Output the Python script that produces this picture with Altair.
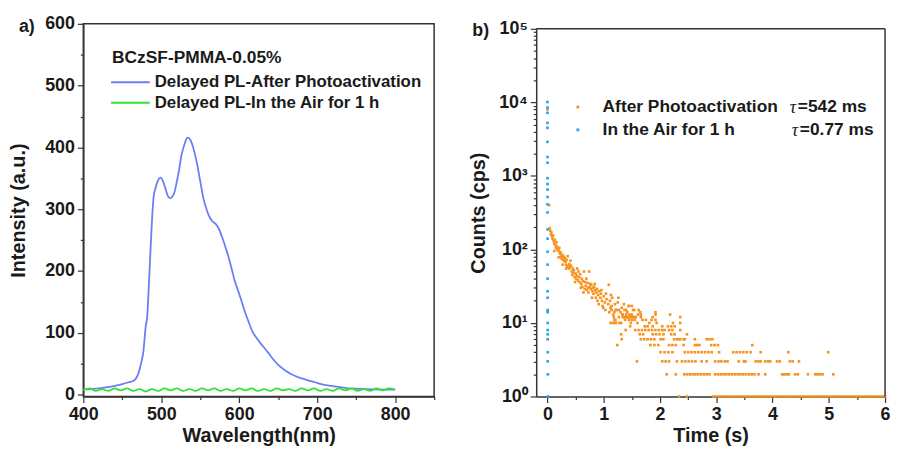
import altair as alt
import pandas as pd

# ---------------- Panel a) delayed PL spectra ----------------
SERIES_A = ["Delayed PL-After Photoactivation", "Delayed PL-In the Air for 1 h"]
COLORS_A = ["#6b7ff5", "#2fe42f"]
LEGEND_TITLE_A = "BCzSF-PMMA-0.05%"

WL_AFTER = [400, 410, 420, 430, 440, 450, 458, 465, 470, 474, 477, 480, 482, 484, 486, 488,
            490, 493, 496, 499, 502, 505, 508, 511, 514, 517, 520, 523, 526, 529, 532, 534,
            537, 540, 543, 546, 550, 554, 558, 562, 566, 570, 574, 578, 582, 586, 590, 594,
            598, 602, 607, 612, 617, 622, 630, 637, 643, 650, 659, 667, 676, 686, 697, 708,
            719, 730, 740, 750, 761, 775, 790, 800]
PL_AFTER = [8.5, 9, 10, 12, 14, 17, 20, 23, 32, 50, 69, 110, 127, 175, 229, 280,
            318, 336, 347, 351, 346, 335, 323, 318, 320, 328, 345, 365, 388, 402, 413, 416,
            413, 404, 390, 373, 345, 318, 300, 287, 280, 276, 268, 255, 240, 224, 205, 185,
            170, 155, 135, 118, 102, 92, 79, 68, 58, 48, 39, 33, 28, 24, 20, 16,
            14, 12, 10, 9.5, 9, 8.5, 8, 8]

WL_AIR = [400, 408, 416, 424, 432, 440, 448, 456, 464, 472, 480, 488, 496, 504, 512, 520,
          528, 536, 544, 552, 560, 568, 576, 584, 592, 600, 608, 616, 624, 632, 640, 648,
          656, 664, 672, 680, 688, 696, 704, 712, 720, 728, 736, 744, 752, 760, 768, 776,
          784, 792, 800]
PL_AIR = [7, 10, 6, 9, 6, 10, 7, 10, 6, 9, 5, 9, 6, 10, 7, 10,
          6, 9, 6, 10, 7, 10, 6, 9, 6, 10, 7, 10, 6, 9, 6, 10,
          7, 9, 6, 10, 7, 10, 6, 9, 6, 10, 7, 10, 6, 9, 6, 10,
          7, 10, 8]

X_TICKS_A = [400, 450, 500, 550, 600, 650, 700, 750, 800, 850]
Y_TICKS_A = [0, 50, 100, 150, 200, 250, 300, 350, 400, 450, 500, 550, 600]

# ---------------- Panel b) decay curves ----------------
SERIES_B = ["After Photoactivation", "In the Air for 1 h"]
COLORS_B = ["#f7921e", "#22a6ee"]
TAU_TEXT = ["=542 ms", "=0.77 ms"]

# dense band of the photoactivated decay
BAND_T = [0.00, 0.03, 0.04, 0.05, 0.06, 0.07, 0.08, 0.09, 0.10, 0.11, 0.12, 0.13, 0.14, 0.15,
          0.16, 0.17, 0.18, 0.19, 0.20, 0.21, 0.22, 0.23, 0.24, 0.25, 0.26, 0.27, 0.28, 0.29,
          0.30, 0.31, 0.32, 0.33, 0.34, 0.35, 0.36, 0.37, 0.38, 0.39, 0.40, 0.42, 0.43, 0.44,
          0.45, 0.46, 0.47, 0.48, 0.50, 0.51, 0.52, 0.54, 0.55, 0.56, 0.57, 0.58, 0.60, 0.61,
          0.62, 0.63, 0.65, 0.66, 0.67, 0.68, 0.70, 0.71, 0.72, 0.73, 0.74, 0.75, 0.76, 0.77,
          0.78, 0.80, 0.81, 0.82, 0.83, 0.85, 0.86, 0.87, 0.88, 0.90, 0.91, 0.92, 0.94, 0.95,
          0.97, 0.98, 1.00, 1.02, 1.03, 1.05, 1.08, 1.09, 1.10, 1.11, 1.12, 1.14, 1.15, 1.17,
          1.18, 1.20, 1.22, 1.23, 1.25, 1.27, 1.28, 1.30, 1.32, 1.33, 1.35, 1.37, 1.38, 1.40,
          1.42, 1.43, 1.44, 1.45, 1.47, 1.48, 1.50, 1.52, 1.54,
          0.12, 0.20, 0.27, 0.33, 0.41, 0.49, 0.53, 0.59, 0.64, 0.69, 0.79, 0.84, 0.89, 0.96,
          0.99, 1.04, 1.13, 1.19, 1.26, 1.31, 1.36]
BAND_C = [8000, 400, 195, 180, 160, 170, 150, 140, 155, 130, 120, 135, 115, 105,
          125, 110, 98, 100, 95, 105, 88, 92, 80, 75, 85, 78, 72, 80,
          70, 76, 68, 62, 72, 58, 81, 60, 55, 63, 57, 60, 50, 45,
          55, 48, 52, 42, 47, 40, 44, 38, 50, 42, 36, 46, 34, 40,
          31, 37, 50, 29, 36, 32, 28, 35, 30, 26, 50, 31, 34, 29,
          33, 27, 30, 25, 31, 28, 22, 26, 29, 24, 18, 27, 22, 25,
          20, 17, 23, 19, 15, 21, 18, 33, 14, 20, 16, 17, 22, 13,
          12, 18, 10, 15, 19, 12, 10, 14, 16, 13, 12, 15, 11, 12,
          14, 12, 17, 11, 12, 10, 13, 15, 12,
          95, 78, 62, 55, 70, 36, 55, 30, 26, 40, 22, 34, 20, 28,
          16, 25, 24, 11, 22, 10, 18]

# points sitting on the discrete low-count levels (count -> times)
LEVEL_TIMES = {
    17: [1.45, 1.50],
    15: [1.14, 1.21, 1.27, 1.40, 1.54, 1.62],
    14: [1.19, 1.65, 1.92],
    13: [1.34, 1.40, 1.46, 1.61, 1.66, 1.92, 2.18],
    12: [1.34, 1.38, 1.42, 1.46, 1.50, 1.54, 1.57, 1.66, 1.87, 2.36],
    11: [1.21, 1.50, 1.55, 1.69, 1.75, 1.85, 1.92],
    10: [1.12, 1.16, 1.20, 1.60, 1.81, 1.94, 2.23, 2.36],
    9: [1.47, 1.73, 1.78, 1.87, 2.04, 2.14, 2.20, 2.26],
    8: [1.39, 1.56, 1.62, 1.68, 1.74, 1.80, 1.86, 1.92, 1.98, 2.04, 2.08, 2.16, 2.22, 2.36],
    7: [1.31, 1.64, 1.70, 1.87, 1.93, 1.99, 2.06, 2.20, 2.26, 2.48],
    6: [1.32, 1.66, 1.72, 1.78, 1.84, 1.90, 2.01, 2.06, 2.25, 2.30, 2.33, 2.36, 2.42, 2.44,
        2.62, 2.83, 2.88, 2.93],
    5: [1.24, 1.83, 1.90, 1.97, 2.16, 2.22, 2.28, 2.42, 2.62, 2.66, 2.70, 2.91, 2.97, 3.03, 3.64],
    4: [2.01, 2.08, 2.15, 2.22, 2.44, 2.50, 2.56, 2.62, 2.68, 2.74, 2.80, 2.86, 2.92, 3.05,
        3.30, 3.36, 3.42, 3.48, 3.54, 3.61, 3.79, 4.28, 4.99],
    3: [1.59, 2.04, 2.10, 2.16, 2.30, 2.39, 2.45, 2.51, 2.57, 2.63, 2.74, 2.83, 2.98, 3.04,
        3.09, 3.15, 3.20, 3.40, 3.49, 3.52, 3.70, 3.75, 3.79, 3.87, 3.92, 3.96, 4.08, 4.13,
        4.31, 4.36, 4.47],
    2: [2.12, 2.28, 2.43, 2.48, 2.53, 2.58, 2.63, 2.68, 2.73, 2.78, 2.83, 2.88, 2.98, 3.03,
        3.08, 3.13, 3.18, 3.23, 3.28, 3.33, 3.38, 3.43, 3.48, 3.53, 3.58, 3.63, 3.68, 3.75,
        3.87, 4.17, 4.21, 4.25, 4.29, 4.40, 4.45, 4.63, 4.76, 4.80, 4.84, 4.89, 5.08],
    1: [2.34, 2.48, 2.95, 3.00, 3.05, 3.10, 3.15, 3.20, 3.25, 3.30, 3.35, 3.40, 3.45, 3.50,
        3.55, 3.60, 3.65, 3.70, 3.75, 3.80, 3.85, 3.90, 3.95, 4.00, 4.05, 4.10, 4.15, 4.20,
        4.25, 4.30, 4.35, 4.40, 4.45, 4.50, 4.55, 4.60, 4.65, 4.70, 4.75, 4.80, 4.85, 4.90,
        4.95, 5.00, 5.05, 5.10, 5.15, 5.20, 5.25, 5.30, 5.35, 5.40, 5.45, 5.50, 5.55, 5.60,
        5.65, 5.70, 5.75, 5.80, 5.85, 5.90, 5.95, 6.00],
}

# fast decay measured after 1 h in air (all within a few ms of t = 0)
AIR_T = [0.000, 0.000, 0.000, 0.000, 0.000, 0.000, 0.001, 0.001, 0.001, 0.001, 0.001,
         0.001, 0.001, 0.001, 0.002, 0.002, 0.002, 0.002, 0.003, 0.003, 0.003, 0.003,
         0.003, 0.004, 0.004, 0.004, 0.004, 0.005, 0.005, 0.006, 0.007]
AIR_C = [10100, 8500, 7200, 5250, 4500, 2900, 1800, 1510, 930, 775, 650,
         515, 410, 318, 187, 140, 93, 62, 40, 27, 22, 15,
         14, 10, 8, 7, 6, 4, 3, 2, 1]

X_TICKS_B = [0, 0.5, 1, 1.5, 2, 2.5, 3, 3.5, 4, 4.5, 5, 5.5, 6]
Y_TICKS_B = [1, 2, 3, 4, 5, 6, 7, 8, 9, 10, 20, 30, 40, 50, 60, 70, 80, 90,
             100, 200, 300, 400, 500, 600, 700, 800, 900,
             1000, 2000, 3000, 4000, 5000, 6000, 7000, 8000, 9000,
             10000, 20000, 30000, 40000, 50000, 60000, 70000, 80000, 90000, 100000]

# ---------------- build tables ----------------
df_a = pd.concat([
    pd.DataFrame({"wl": WL_AFTER, "pl": PL_AFTER, "series": SERIES_A[0]}),
    pd.DataFrame({"wl": WL_AIR, "pl": PL_AIR, "series": SERIES_A[1]}),
], ignore_index=True)

rows_t, rows_c = list(BAND_T), list(BAND_C)
for lvl, times in LEVEL_TIMES.items():
    rows_t += times
    rows_c += [lvl] * len(times)
df_b = pd.concat([
    pd.DataFrame({"t": rows_t, "c": rows_c, "series": SERIES_B[0], "o": 0}),
    pd.DataFrame({"t": AIR_T, "c": AIR_C, "series": SERIES_B[1], "o": 1}),
], ignore_index=True)

FONT = "Liberation Sans"
INK = "#1a1a1a"
FRAME = "#333333"
ONE = pd.DataFrame({"k": [0]})

H = 376                      # plot height of both panels
W_A, W_B, TOP_B = 354, 352, 5  # panel b frame starts 5 px lower than panel a


def major_tick(test):
    return {"condition": {"test": test, "value": 6}, "value": 3}


def label(text, x, y, size=17.5, font=FONT, weight="bold", style="normal", align="left"):
    return alt.Chart(pd.DataFrame({"s": [text]})).mark_text(
        font=font, fontSize=size, fontWeight=weight, fontStyle=style, color=INK,
        align=align, baseline="middle"
    ).encode(x=alt.value(x), y=alt.value(y), text="s:N")


# ---------------- panel a ----------------
lines = alt.Chart(df_a).mark_line(strokeWidth=1.8, interpolate="monotone").encode(
    x=alt.X("wl:Q", scale=alt.Scale(domain=[400, 850], nice=False, zero=False),
            axis=alt.Axis(values=X_TICKS_A, title="Wavelength(nm)", labelFlush=False,
                          labelExpr="datum.value % 100 == 0 && datum.value <= 800 ? datum.value : ''",
                          tickSize=major_tick("datum.value % 100 == 0"),
                          labelPadding=3, titlePadding=2)),
    y=alt.Y("pl:Q", scale=alt.Scale(domain=[-3, 600], nice=False, zero=False),
            axis=alt.Axis(values=Y_TICKS_A, title="Intensity (a.u.)", labelFlush=False,
                          labelExpr="datum.value % 100 == 0 ? datum.value : ''",
                          tickSize=major_tick("datum.value % 100 == 0"),
                          titlePadding=16)),
    color=alt.Color("series:N", scale=alt.Scale(domain=SERIES_A, range=COLORS_A), legend=None),
)

leg_a = [label(LEGEND_TITLE_A, 29, 35)]
for i, (name, col) in enumerate(zip(SERIES_A, COLORS_A)):
    yy = 59 + 20.5 * i
    leg_a.append(alt.Chart(ONE).mark_rule(strokeWidth=2, color=col).encode(
        x=alt.value(28), x2=alt.value(67), y=alt.value(yy)))
    leg_a.append(label(name, 72, yy, size=17))

left = alt.layer(lines, *leg_a, label("a)", -57, 3, size=18, align="center")).properties(
    width=W_A, height=H)

# ---------------- panel b ----------------
pts = alt.Chart(df_b).mark_square(size=7, opacity=1).encode(
    x=alt.X("t:Q", scale=alt.Scale(domain=[-0.2, 6], nice=False, zero=False),
            axis=alt.Axis(values=X_TICKS_B, title="Time (s)", labelFlush=False,
                          labelExpr="datum.value % 1 == 0 ? datum.value : ''",
                          tickSize=major_tick("datum.value % 1 == 0"),
                          labelPadding=3, titlePadding=2)),
    y=alt.Y("c:Q", scale=alt.Scale(type="log", domain=[1, 100000], nice=False,
                                   range=[H, TOP_B]),
            axis=alt.Axis(values=Y_TICKS_B, title="Counts (cps)", labelFlush=False,
                          labelExpr="datum.value == 1 ? '10⁰' : datum.value == 10 ? '10¹' : datum.value == 100 ? '10²' : datum.value == 1000 ? '10³' : datum.value == 10000 ? '10⁴' : datum.value == 100000 ? '10⁵' : ''",
                          tickSize=major_tick("indexof([1,10,100,1000,10000,100000], datum.value) >= 0"),
                          titlePadding=10)),
    color=alt.Color("series:N", scale=alt.Scale(domain=SERIES_B, range=COLORS_B), legend=None),
    order=alt.Order("o:Q"),
)

# frame of panel b (top and right edges; left/bottom are the axis lines)
frame_top = alt.Chart(ONE).mark_rule(strokeWidth=1.5, color=FRAME).encode(
    x=alt.value(0), x2=alt.value(W_B), y=alt.value(TOP_B))
frame_right = alt.Chart(ONE).mark_rule(strokeWidth=1.5, color=FRAME).encode(
    x=alt.value(W_B), y=alt.value(TOP_B), y2=alt.value(H))

leg_b = []
for i, (name, col) in enumerate(zip(SERIES_B, COLORS_B)):
    yy = 84 + 23 * i
    leg_b.append(alt.Chart(ONE).mark_square(size=8, color=col, opacity=1).encode(
        x=alt.value(42), y=alt.value(yy)))
    leg_b.append(label(name, 67, yy, size=17.5))
    leg_b.append(label("τ", 259 + 2 * i, yy + 1, size=18, font="Liberation Serif",
                       weight="normal", style="italic", align="center"))
    leg_b.append(label(TAU_TEXT[i], 264 + 2 * i, yy, size=17.5))

right = alt.layer(pts, frame_top, frame_right, *leg_b,
                  label("b)", -56, 7, size=18, align="center")).properties(
    width=W_B, height=H, view=alt.ViewBackground(stroke="transparent"))

chart = alt.hconcat(left, right, spacing=32).resolve_scale(color="independent").properties(
    padding={"left": 0, "top": 4, "right": -1, "bottom": 0}
).configure_view(
    stroke=FRAME, strokeWidth=1.5
).configure_axis(
    labelFont=FONT, labelFontSize=18, labelFontWeight="bold", labelColor=INK,
    titleFont=FONT, titleFontSize=20, titleFontWeight="bold", titleColor=INK,
    domainColor=FRAME, domainWidth=1.5, tickColor=FRAME, tickWidth=1.2,
    labelPadding=3, grid=False,
)

chart.save("out.html", embed_options={"renderer": "svg", "actions": False})
